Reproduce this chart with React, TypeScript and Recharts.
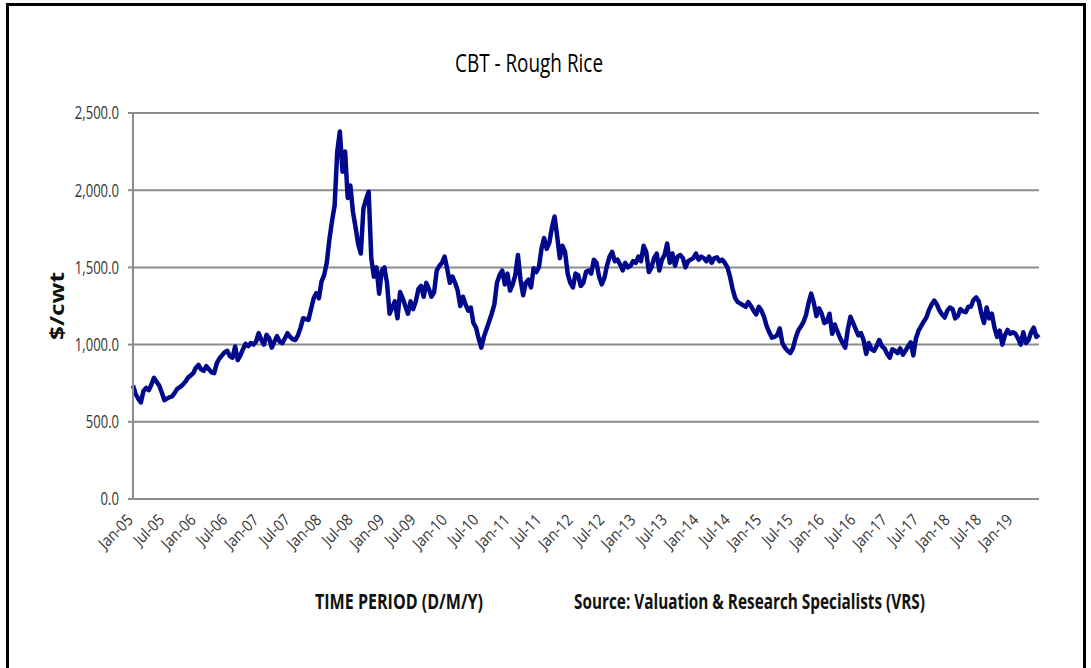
import React from "react";
import { LineChart, Line, XAxis, YAxis, CartesianGrid } from "recharts";

// Half-monthly readings of CBT Rough Rice ($/cwt), starting each January
const y2005 = [735, 680, 650, 625, 700, 720, 705, 740, 785, 760, 735, 690, 640, 650, 660, 665, 690, 715, 725, 740, 760, 785, 800, 815];
const y2006 = [850, 868, 840, 830, 860, 840, 820, 815, 880, 910, 930, 950, 960, 925, 915, 988, 900, 930, 970, 1005, 990, 1010, 1000, 1020];
const y2007 = [1074, 1030, 1000, 1063, 1040, 980, 1020, 1055, 1020, 1009, 1040, 1074, 1050, 1035, 1030, 1060, 1110, 1171, 1165, 1160, 1230, 1300, 1333, 1300];
const y2008 = [1410, 1450, 1530, 1680, 1800, 1900, 2250, 2380, 2120, 2250, 1950, 2030, 1860, 1760, 1650, 1590, 1880, 1940, 1990, 1560, 1440, 1500, 1330, 1480];
const y2009 = [1500, 1400, 1200, 1240, 1280, 1170, 1340, 1300, 1250, 1200, 1280, 1230, 1280, 1360, 1380, 1310, 1400, 1360, 1310, 1340, 1480, 1510, 1530, 1570];
const y2010 = [1490, 1400, 1440, 1400, 1350, 1250, 1310, 1260, 1220, 1240, 1140, 1110, 1040, 980, 1050, 1100, 1150, 1200, 1260, 1400, 1450, 1480, 1390, 1460];
const y2011 = [1350, 1390, 1450, 1580, 1420, 1320, 1400, 1420, 1370, 1495, 1470, 1500, 1620, 1690, 1620, 1660, 1760, 1830, 1700, 1560, 1640, 1600, 1460, 1400];
const y2012 = [1370, 1460, 1450, 1380, 1400, 1470, 1480, 1460, 1550, 1530, 1440, 1390, 1430, 1510, 1570, 1600, 1540, 1550, 1520, 1480, 1530, 1500, 1510, 1540];
const y2013 = [1530, 1570, 1540, 1640, 1600, 1470, 1500, 1560, 1590, 1480, 1550, 1580, 1655, 1530, 1590, 1510, 1570, 1580, 1560, 1500, 1540, 1550, 1560, 1590];
const y2014 = [1550, 1570, 1560, 1540, 1570, 1530, 1560, 1565, 1540, 1550, 1530, 1500, 1440, 1360, 1300, 1275, 1265, 1255, 1245, 1275, 1250, 1220, 1195, 1245];
const y2015 = [1220, 1180, 1120, 1080, 1045, 1050, 1060, 1105, 1010, 980, 960, 945, 975, 1040, 1090, 1115, 1145, 1190, 1270, 1330, 1270, 1185, 1235, 1200];
const y2016 = [1140, 1150, 1200, 1070, 1130, 1085, 1045, 1010, 980, 1100, 1180, 1140, 1100, 1060, 1075, 1030, 940, 1010, 970, 960, 990, 1030, 990, 975];
const y2017 = [940, 915, 970, 960, 945, 975, 935, 960, 990, 1015, 930, 1040, 1090, 1120, 1150, 1175, 1225, 1260, 1285, 1260, 1220, 1195, 1175, 1220];
const y2018 = [1240, 1230, 1170, 1185, 1230, 1215, 1210, 1245, 1245, 1290, 1305, 1280, 1200, 1140, 1240, 1170, 1200, 1110, 1050, 1090, 1000, 1060, 1095, 1070];
const y2019 = [1080, 1070, 1040, 1000, 1080, 1010, 1030, 1080, 1110, 1050, 1065];

const years = [y2005, y2006, y2007, y2008, y2009, y2010, y2011, y2012, y2013, y2014, y2015, y2016, y2017, y2018, y2019];

const xTickLabels = [
  "Jan-05", "Jul-05", "Jan-06", "Jul-06", "Jan-07", "Jul-07", "Jan-08", "Jul-08",
  "Jan-09", "Jul-09", "Jan-10", "Jul-10", "Jan-11", "Jul-11", "Jan-12", "Jul-12",
  "Jan-13", "Jul-13", "Jan-14", "Jul-14", "Jan-15", "Jul-15", "Jan-16", "Jul-16",
  "Jan-17", "Jul-17", "Jan-18", "Jul-18", "Jan-19",
];
const yTicks = [0, 500, 1000, 1500, 2000, 2500];

const data: { m: number; price: number }[] = [];
years.forEach((arr, yi) => {
  arr.forEach((v, i) => data.push({ m: yi * 12 + i * 0.5, price: v }));
});
const xTicks = xTickLabels.map((_, i) => i * 6);

const FONT = "'Liberation Sans Narrow', 'Open Sans', 'Liberation Sans', sans-serif";
const GRID = "#8c8c8c";

const XTick = (props: any) => {
  const { x, y, payload } = props;
  const label = xTickLabels[Math.round(payload.value / 6)] ?? "";
  return (
    <text
      transform={`translate(${x + 1},${y + 22}) rotate(-45)`}
      textAnchor="end"
      fontFamily={FONT}
      fontSize={16}
      fill="#333"
      textLength={label.startsWith("Jul") ? 36 : 41}
      lengthAdjust="spacingAndGlyphs"
    >
      {label}
    </text>
  );
};

const YTick = (props: any) => {
  const { x, y, payload } = props;
  const label = Number(payload.value).toLocaleString("en-US", {
    minimumFractionDigits: 1,
    maximumFractionDigits: 1,
  });
  const digits = label.replace(/[^0-9]/g, "").length;
  const punct = label.length - digits;
  return (
    <text
      x={x}
      y={y}
      dy="0.36em"
      textAnchor="end"
      fontFamily={FONT}
      fontSize={18}
      fill="#333"
      textLength={digits * 7.4 + punct * 3.6}
      lengthAdjust="spacingAndGlyphs"
    >
      {label}
    </text>
  );
};

export default function App() {
  return (
    <div style={{ position: "fixed", left: 0, top: 0, width: 1091, height: 668, background: "#fff", overflow: "hidden" }}>
      <div
        style={{
          position: "absolute",
          left: 6,
          top: 3,
          width: 1080,
          height: 720,
          boxSizing: "border-box",
          border: "3px solid #000",
          borderBottom: "none",
        }}
      />
      <div style={{ position: "absolute", left: 0, top: 0 }}>
        <LineChart width={1091} height={668} data={data} margin={{ top: 113, right: 52, bottom: 109, left: 73 }}>
          <CartesianGrid vertical={false} stroke={GRID} strokeWidth={2} />
          <XAxis
            dataKey="m"
            type="number"
            domain={[0, 173]}
            ticks={xTicks}
            interval={0}
            height={60}
            tickLine={false}
            tickSize={0}
            tickMargin={0}
            axisLine={{ stroke: GRID, strokeWidth: 2 }}
            tick={<XTick />}
          />
          <YAxis
            type="number"
            domain={[0, 2500]}
            ticks={yTicks}
            interval={0}
            width={60}
            tickSize={5}
            tickMargin={9}
            tickLine={{ stroke: GRID, strokeWidth: 2 }}
            axisLine={{ stroke: GRID, strokeWidth: 2 }}
            tick={<YTick />}
          />
          <Line
            type="linear"
            dataKey="price"
            stroke="#00088c"
            strokeWidth={4.5}
            strokeLinejoin="round"
            dot={false}
            isAnimationActive={false}
          />
        </LineChart>
      </div>
      <svg width={1091} height={668} style={{ position: "absolute", left: 0, top: 0, pointerEvents: "none" }}>
        <text x={455} y={72} fontFamily={FONT} fontSize={26} fill="#000" textLength={148} lengthAdjust="spacingAndGlyphs">
          CBT - Rough Rice
        </text>
        <text
          transform="translate(64,340) rotate(-90)"
          fontFamily={FONT}
          fontWeight="bold"
          fontSize={19}
          fill="#111"
          textLength={68}
          lengthAdjust="spacingAndGlyphs"
        >
          $/cwt
        </text>
        <text x={315} y={609} fontFamily={FONT} fontWeight="bold" fontSize={21} fill="#111" textLength={168} lengthAdjust="spacingAndGlyphs">
          TIME PERIOD (D/M/Y)
        </text>
        <text x={574} y={609} fontFamily={FONT} fontWeight="bold" fontSize={21} fill="#111" textLength={351} lengthAdjust="spacingAndGlyphs">
          Source: Valuation &amp; Research Specialists (VRS)
        </text>
      </svg>
    </div>
  );
}
